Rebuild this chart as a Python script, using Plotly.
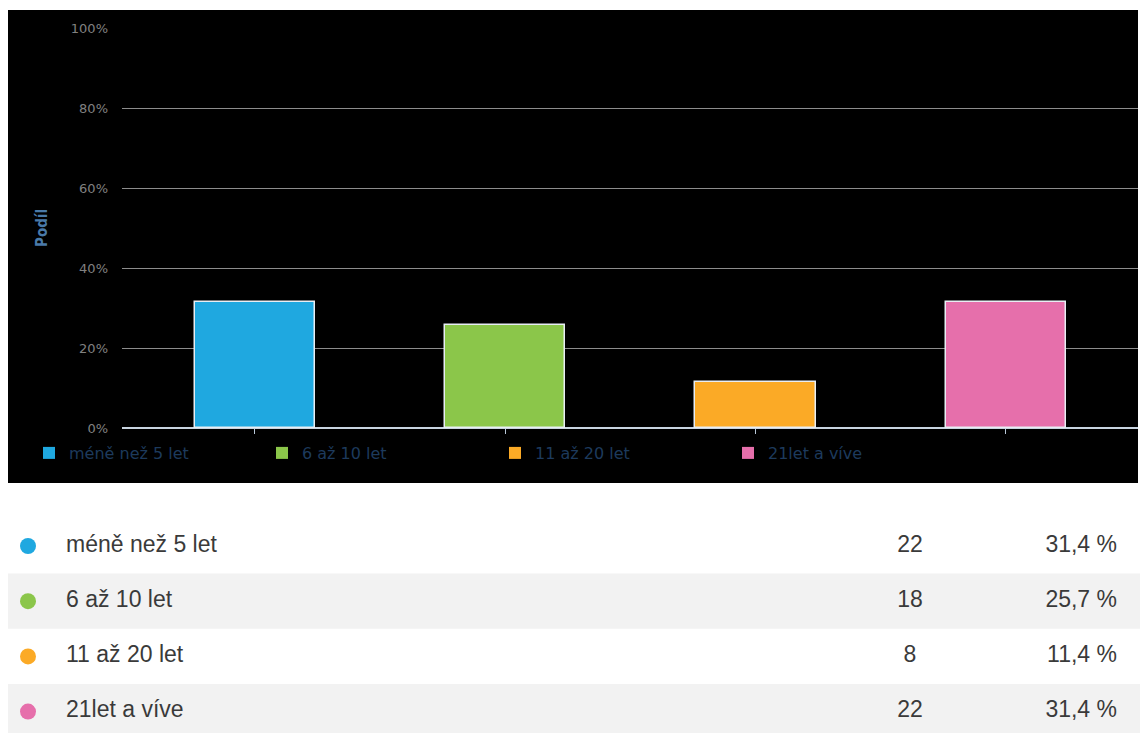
import plotly.graph_objects as go

# ---- data ----
categories = ["méně než 5 let", "6 až 10 let", "11 až 20 let", "21let a víve"]
shares = [31.4, 25.7, 11.4, 31.4]
counts = [22, 18, 8, 22]
share_labels = ["31,4 %", "25,7 %", "11,4 %", "31,4 %"]
colors = ["#1fa8e0", "#8bc64a", "#fbaa26", "#e66fab"]
y_ticks = [0, 20, 40, 60, 80, 100]
y_tick_labels = ["0%", "20%", "40%", "60%", "80%", "100%"]

# page has an 8px body margin; figure fills the rest of the 1148x733 window
OFF = 8
W, H = 1148 - OFF, 733 - OFF


def px_x(s):
    return (s - OFF) / W


def px_y(s):
    return 1 - (s - OFF) / H


fig = go.Figure()

# bars
for i, (cat, val, col) in enumerate(zip(categories, shares, colors)):
    fig.add_trace(go.Bar(
        x=[i], y=[val], name=cat, width=0.48,
        marker=dict(color=col, line=dict(color="#e8eef4", width=1.5)),
        xaxis="x", yaxis="y", showlegend=False,
        hovertemplate=cat + ": %{y}%<extra></extra>",
    ))
    # legend entry (colour swatch without outline)
    fig.add_trace(go.Scatter(
        x=[None], y=[None], name=cat, mode="markers",
        marker=dict(symbol="square", size=12, color=col, line=dict(width=0)),
        xaxis="x", yaxis="y", showlegend=True, hoverinfo="skip"))

# table rows
rows = list(range(len(categories)))
tfont = dict(family="Liberation Sans", size=23, color="#3a3a3a")
fig.add_trace(go.Scatter(
    x=[28] * len(rows), y=rows, mode="markers",
    marker=dict(color=colors, size=16, line=dict(width=0)),
    xaxis="x2", yaxis="y2", showlegend=False, hoverinfo="skip"))
fig.add_trace(go.Scatter(
    x=[66] * len(rows), y=rows, mode="text", text=categories,
    textposition="middle right", textfont=tfont,
    xaxis="x2", yaxis="y2", showlegend=False, hoverinfo="skip"))
fig.add_trace(go.Scatter(
    x=[910] * len(rows), y=rows, mode="text", text=[str(c) for c in counts],
    textposition="middle center", textfont=tfont,
    xaxis="x2", yaxis="y2", showlegend=False, hoverinfo="skip"))
fig.add_trace(go.Scatter(
    x=[1117] * len(rows), y=rows, mode="text", text=share_labels,
    textposition="middle left", textfont=tfont,
    xaxis="x2", yaxis="y2", showlegend=False, hoverinfo="skip"))

shapes = [
    # black chart background
    dict(type="rect", xref="paper", yref="paper",
         x0=px_x(8), x1=px_x(1138), y0=px_y(483), y1=px_y(10),
         fillcolor="black", line=dict(width=0), layer="below"),
]
for r in rows:
    if r % 2 == 1:
        shapes.append(dict(type="rect", xref="x2", yref="y2",
                           x0=8, x1=1140, y0=r - 0.5, y1=r + 0.5,
                           fillcolor="#f2f2f2", line=dict(width=0), layer="below"))

ROW0, ROWH = 546.0, 55.2

fig.update_layout(
    width=W, height=H,
    margin=dict(l=0, r=0, t=0, b=0, autoexpand=False),
    paper_bgcolor="white",
    plot_bgcolor="rgba(0,0,0,0)",
    barmode="overlay",
    bargap=0,
    shapes=shapes,
    xaxis=dict(domain=[px_x(122), px_x(1138)], range=[-0.531, 3.528],
               showgrid=False, zeroline=False, showline=False,
               tickvals=[0, 1, 2, 3], ticks="outside", ticklen=5,
               tickcolor="#b8c8d8", tickwidth=1, showticklabels=False,
               fixedrange=True, automargin=False),
    yaxis=dict(domain=[px_y(428), px_y(28)], range=[0, 100],
               tickvals=y_ticks, ticktext=y_tick_labels,
               showgrid=True, gridcolor="#8c8c8c", gridwidth=1,
               zeroline=True, zerolinecolor="#c8d4e0", zerolinewidth=1.5,
               tickfont=dict(family="DejaVu Sans", size=13, color="#808080"),
               ticklabelstandoff=13, fixedrange=True, automargin=False),
    xaxis2=dict(domain=[0, 1], range=[OFF, 1148], visible=False,
                fixedrange=True, automargin=False),
    yaxis2=dict(domain=[0, px_y(516)],
                range=[(733 - ROW0) / ROWH, (516 - ROW0) / ROWH],
                visible=False, fixedrange=True, anchor="x2", automargin=False),
    legend=dict(orientation="h", x=px_x(29), y=px_y(453), xanchor="left",
                yanchor="middle", entrywidth=188, entrywidthmode="pixels",
                bgcolor="rgba(0,0,0,0)",
                font=dict(family="DejaVu Sans", size=16, color="#1d3a5c"),
                itemclick=False, itemdoubleclick=False),
    annotations=[dict(text="<b>Podíl</b>", xref="paper", yref="paper",
                      x=px_x(42), y=px_y(228), xanchor="center",
                      yanchor="middle", textangle=-90, showarrow=False,
                      font=dict(family="DejaVu Sans Condensed", size=15,
                                color="#4a7aa8"))],
    showlegend=True,
)

fig.write_html("out.html")
